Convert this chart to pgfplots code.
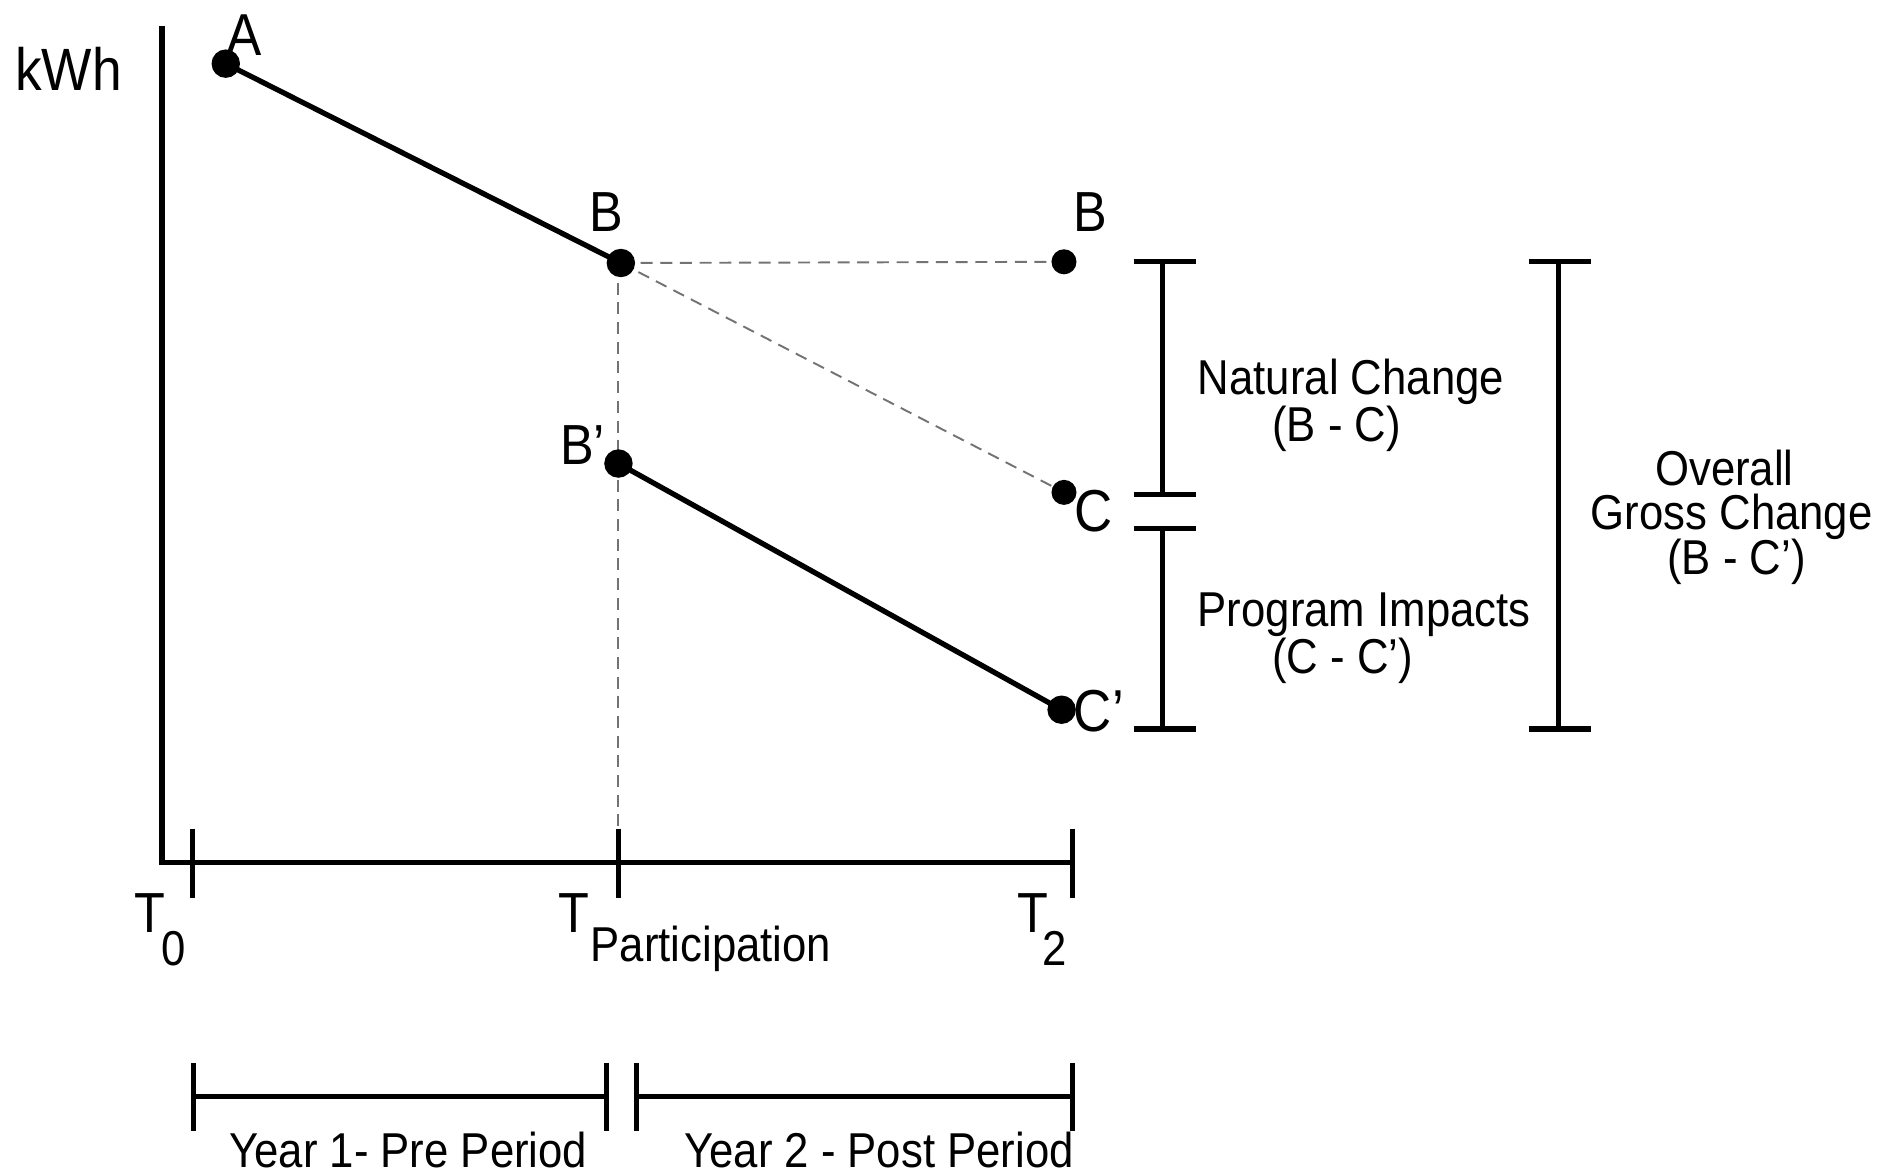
\documentclass[border=0pt]{standalone}
\usepackage{pgfplots}
\pgfplotsset{compat=1.18}
\usepackage{fontspec}
\setmainfont{Liberation Sans}

\newcommand{\fs}[1]{\fontsize{#1}{#1}\selectfont}
\tikzset{lbl/.style={yscale=1.12, inner sep=1pt}}

\begin{document}
\begin{tikzpicture}
\begin{axis}[
    hide axis,
    x=0.25pt, y=0.25pt,
    xmin=0, xmax=1568,
    ymin=0, ymax=975,
    y dir=reverse,
    clip=false,
    unbounded coords=jump,
  ]
  % frame (axes of the sketch)
  \addplot[black, line width=1.1pt, mark=none] coordinates {(135,22) (135,718) (893,718)};
  % ticks on the time axis
  \addplot[black, line width=1.1pt, mark=none] coordinates {
    (160,690) (160,748) (nan,nan)
    (515,690) (515,748) (nan,nan)
    (893,690) (893,748)
  };

  % dashed guide lines
  \addplot[black!55, line width=0.4pt, dash pattern=on 2.5pt off 1.6pt, mark=none]
    coordinates {(517,219) (886,218)};
  \addplot[black!55, line width=0.4pt, dash pattern=on 2.5pt off 1.6pt, mark=none]
    coordinates {(517,219) (886,410)};
  \addplot[black!55, line width=0.4pt, dash pattern=on 2.5pt off 1.6pt, mark=none]
    coordinates {(515,219) (515,690)};

  % consumption lines
  \addplot[black, line width=1.1pt, mark=*, mark size=2.4pt] coordinates {(188,53) (517,219)};
  \addplot[black, line width=1.1pt, mark=*, mark size=2.4pt] coordinates {(515,386) (884,591)};
  \addplot[black, only marks, mark=*, mark size=2.4pt] coordinates {(886,218) (886,410)};

  % brackets on the right
  \addplot[black, line width=1.1pt, mark=none] coordinates {
    (944,218) (996,218) (nan,nan) (968,218) (968,412) (nan,nan) (944,412) (996,412) (nan,nan)
    (944,440) (996,440) (nan,nan) (968,440) (968,607) (nan,nan) (944,607) (996,607) (nan,nan)
    (1273,218) (1325,218) (nan,nan) (1298,218) (1298,607) (nan,nan) (1273,607) (1325,607)
  };

  % period brackets at the bottom
  \addplot[black, line width=1.1pt, mark=none] coordinates {
    (161,885) (161,942) (nan,nan) (161,913) (505,913) (nan,nan) (505,885) (505,942) (nan,nan)
    (530,885) (530,942) (nan,nan) (530,913) (893,913) (nan,nan) (893,885) (893,942)
  };

  % labels
  \node[lbl, font=\fs{11.1}] at (axis cs:57,57) {kWh};
  \node[lbl, font=\fs{11}] at (axis cs:203,29) {A};
  \node[lbl, font=\fs{10.5}] at (axis cs:505,177) {B};
  \node[lbl, font=\fs{10.5}] at (axis cs:908,177) {B};
  \node[lbl, font=\fs{10.5}] at (axis cs:485,371) {B’};
  \node[lbl, font=\fs{11}] at (axis cs:911,426) {C};
  \node[lbl, font=\fs{11}] at (axis cs:915,592) {C’};

  \node[lbl, font=\fs{10.5}] at (axis cs:125,760) {T};
  \node[lbl, font=\fs{9.1}] at (axis cs:145,790) {0};
  \node[lbl, font=\fs{10.5}] at (axis cs:478,760) {T};
  \node[lbl, font=\fs{9.1}] at (axis cs:592,790) {Participation};
  \node[lbl, font=\fs{10.5}] at (axis cs:860,760) {T};
  \node[lbl, font=\fs{9.1}] at (axis cs:878,790) {2};

  \node[lbl, font=\fs{9.1}] at (axis cs:1125,318) {Natural Change};
  \node[lbl, font=\fs{9.1}] at (axis cs:1113,357) {(B - C)};
  \node[lbl, font=\fs{9.1}] at (axis cs:1136,512) {Program Impacts};
  \node[lbl, font=\fs{9.1}] at (axis cs:1118,550) {(C - C’)};
  \node[lbl, font=\fs{9.1}] at (axis cs:1436,390) {Overall};
  \node[lbl, font=\fs{9.1}] at (axis cs:1442,430) {Gross Change};
  \node[lbl, font=\fs{9.1}] at (axis cs:1446,468) {(B - C’)};

  \node[lbl, font=\fs{9.1}] at (axis cs:340,958) {Year 1- Pre Period};
  \node[lbl, font=\fs{9.1}] at (axis cs:732,958) {Year 2 - Post Period};

  \coordinate (sw) at (axis cs:0,975);
  \coordinate (ne) at (axis cs:1568,0);
\end{axis}
\pgfresetboundingbox
\path[use as bounding box] (sw) rectangle (ne);
\end{tikzpicture}
\end{document}
